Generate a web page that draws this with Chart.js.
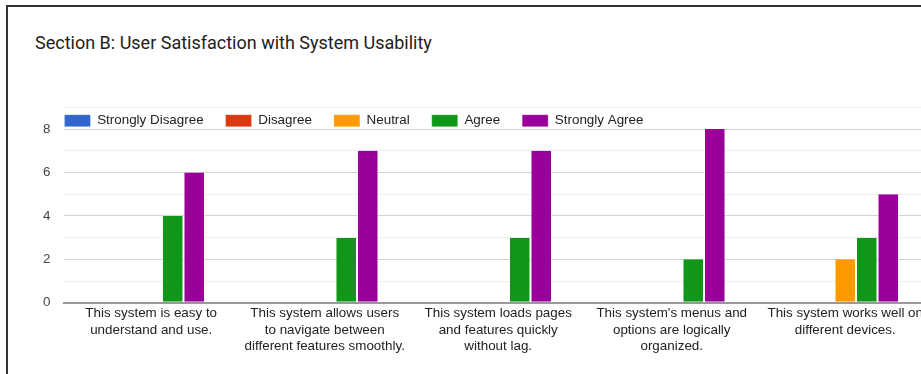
<!DOCTYPE html>
<html>
<head>
<meta charset="utf-8">
<script src="https://cdn.jsdelivr.net/npm/chart.js@4"></script>
<style>
  html, body { margin: 0; padding: 0; background: #fff; overflow: hidden; }
  body { width: 921px; height: 374px; position: relative; }
  .card {
    position: absolute; left: 6px; top: 5px; width: 1000px; height: 500px;
    border-left: 2px solid #333; border-top: 2px solid #333; background: #fff;
  }
  .title {
    position: absolute; left: 35px; top: 32px;
    font: 18px Roboto, "Liberation Sans", Arial, sans-serif; color: #212121;
  }
  #chart { position: absolute; left: 0; top: 0; }
</style>
</head>
<body>
<div class="card"></div>
<div class="title">Section B: User Satisfaction with System Usability</div>
<canvas id="chart" width="950" height="374"></canvas>
<script>
const categories = [
  ["This system is easy to", "understand and use."],
  ["This system allows users", "to navigate between", "different features smoothly."],
  ["This system loads pages", "and features quickly", "without lag."],
  ["This system's menus and", "options are logically", "organized."],
  ["This system works well on", "different devices."],
];
const stronglyDisagree = [0, 0, 0, 0, 0];
const disagree = [0, 0, 0, 0, 0];
const neutral = [0, 0, 0, 0, 2];
const agree = [4, 3, 3, 2, 3];
const stronglyAgree = [6, 7, 7, 8, 5];
const yTicks = [0, 2, 4, 6, 8];

const font = { family: "'Liberation Sans', Arial, sans-serif", size: 13.4 };

// legend sits inside the top of the plot, like the Google Forms chart
const legendOverlap = 30;

const overlayLegend = {
  id: "overlayLegend",
  afterInit(chart) {
    const legend = chart.legend;
    const fit = legend.fit;
    legend.fit = function () {
      fit.call(this);
      this.height = Math.max(this.height - legendOverlap, 0);
    };
  },
  afterLayout(chart) {
    const legend = chart.legend;
    legend.bottom += legendOverlap;
    legend.height += legendOverlap;
    legend.left = chart.chartArea.left - legend.options.labels.padding;
  },
};

const series = [
  ["Strongly Disagree", stronglyDisagree, "#3366cc"],
  ["Disagree", disagree, "#dc3912"],
  ["Neutral", neutral, "#ff9900"],
  ["Agree", agree, "#109618"],
  ["Strongly Agree", stronglyAgree, "#990099"],
];

new Chart(document.getElementById("chart"), {
  type: "bar",
  plugins: [overlayLegend],
  data: {
    labels: categories,
    datasets: series.map(([label, data, color]) => ({
      label,
      data,
      backgroundColor: color,
      borderColor: "rgba(255,255,255,0.6)",
      borderWidth: { left: 1, right: 1, top: 0, bottom: 0 },
      borderSkipped: false,
      categoryPercentage: 0.62,
      barPercentage: 1,
    })),
  },
  options: {
    responsive: false,
    animation: false,
    layout: { autoPadding: false, padding: { left: 29, top: 92, right: 18, bottom: 19 } },
    plugins: {
      tooltip: { enabled: false },
      legend: {
        position: "top",
        align: "start",
        labels: {
          boxWidth: 26,
          boxHeight: 12,
          padding: 22,
          color: "#222",
          font,
        },
      },
    },
    scales: {
      x: {
        grid: { display: false },
        border: { display: true, color: "#999", width: 2 },
        afterFit: (scale) => { scale.height += 6; },
        ticks: {
          color: "#222",
          maxRotation: 0,
          autoSkip: false,
          padding: -5,
          font: { ...font, lineHeight: 1.2 },
        },
      },
      y: {
        min: 0,
        max: 9,
        border: { display: false },
        grid: {
          drawTicks: false,
          color: (c) => (c.tick.value === 0 ? "#999" : yTicks.includes(c.tick.value) ? "#d4d4d4" : "#eeeeee"),
          lineWidth: (c) => (c.tick.value === 0 ? 2 : 1),
        },
        ticks: {
          stepSize: 1,
          padding: 14,
          color: "#444",
          font,
          callback: (v) => (yTicks.includes(v) ? String(v) : ""),
        },
      },
    },
  },
});
</script>
</body>
</html>
